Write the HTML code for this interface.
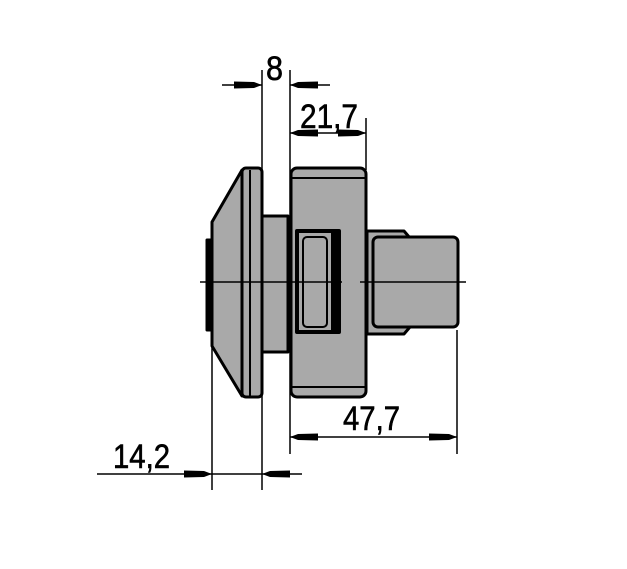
<!DOCTYPE html>
<html><head><meta charset="utf-8"><style>html,body{margin:0;padding:0;background:#fff}</style></head>
<body>
<svg width="627" height="564" viewBox="0 0 627 564" xmlns="http://www.w3.org/2000/svg">
<rect width="627" height="564" fill="#fff"/>
<defs>
<marker id="a" viewBox="0 0 28 8" refX="28" refY="4" markerWidth="28" markerHeight="8" markerUnits="userSpaceOnUse" orient="auto"><path d="M0,0.5 L20,1 L28,4 L20,7 L0,7.5 Z" fill="#000"/></marker>
</defs>
<g stroke="#000" stroke-width="3" fill="#a9a9a9" stroke-linejoin="round">
<rect x="207" y="240" width="6" height="90" fill="#000"/>
<path d="M212,222 L242,170 L250,170 L250,396 L242,396 L212,346 Z"/>
<rect x="242" y="168" width="20" height="229" rx="4"/>
<line x1="250" y1="170" x2="250" y2="396" stroke-width="2"/>
<rect x="262" y="216" width="26" height="136"/>
<rect x="291" y="168" width="75" height="229" rx="6"/>
<line x1="291" y1="178" x2="366" y2="178" stroke-width="2"/>
<line x1="291" y1="387" x2="366" y2="387" stroke-width="2"/>
<rect x="297" y="231" width="42" height="101" stroke-width="4"/>
<rect x="303" y="237" width="24" height="90" rx="4" stroke-width="2"/>
<line x1="334" y1="233" x2="334" y2="330" stroke-width="6"/>
<path d="M367,231 L404,231 L410,238 L410,327 L404,334 L367,334 Z"/>
<rect x="373" y="237" width="85" height="90" rx="5"/>
</g>
<line x1="200" y1="282" x2="342" y2="282" stroke="#000" stroke-width="1.5"/>
<line x1="360" y1="282" x2="466" y2="282" stroke="#000" stroke-width="1.5"/>
<g stroke="#000" stroke-width="1.5" fill="none">
<line x1="262" y1="70" x2="262" y2="490"/>
<line x1="290" y1="70" x2="290" y2="454"/>
<line x1="366" y1="118" x2="366" y2="170"/>
<line x1="212" y1="340" x2="212" y2="490"/>
<line x1="457" y1="330" x2="457" y2="454"/>
<line x1="222" y1="85" x2="262" y2="85" marker-end="url(#a)"/>
<line x1="330" y1="85" x2="290" y2="85" marker-end="url(#a)"/>
<line x1="328" y1="133" x2="290" y2="133" marker-end="url(#a)"/>
<line x1="328" y1="133" x2="366" y2="133" marker-end="url(#a)"/>
<line x1="373" y1="437" x2="290" y2="437" marker-end="url(#a)"/>
<line x1="373" y1="437" x2="457" y2="437" marker-end="url(#a)"/>
<line x1="97" y1="474" x2="212" y2="474" marker-end="url(#a)"/>
<line x1="302" y1="474" x2="262" y2="474" marker-end="url(#a)"/>
<line x1="212" y1="474" x2="262" y2="474"/>
</g>
<g font-family="Liberation Sans, sans-serif" font-size="34" fill="#000" stroke="#000" stroke-width="0.6">
<text x="266" y="80" textLength="17" lengthAdjust="spacingAndGlyphs">8</text>
<text x="300" y="128" textLength="58" lengthAdjust="spacingAndGlyphs">21,7</text>
<text x="343" y="430" textLength="57" lengthAdjust="spacingAndGlyphs">47,7</text>
<text x="113" y="468" textLength="57" lengthAdjust="spacingAndGlyphs">14,2</text>
</g>
</svg>
</body></html>
